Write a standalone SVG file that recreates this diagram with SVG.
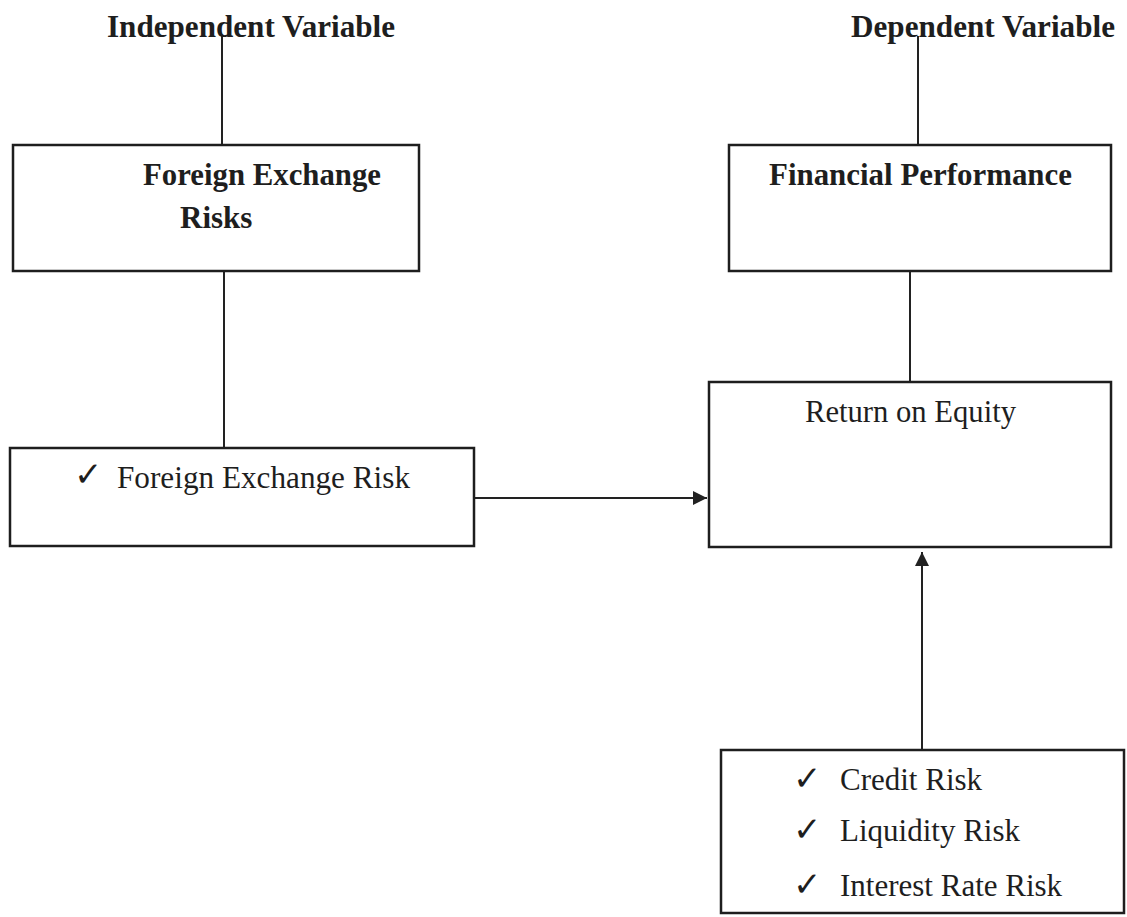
<svg xmlns="http://www.w3.org/2000/svg" width="1127" height="917" viewBox="0 0 1127 917">
  <defs>
    <marker id="arrow" viewBox="0 0 10 10" refX="10" refY="5" markerWidth="14" markerHeight="14" markerUnits="userSpaceOnUse" orient="auto">
      <path d="M0,0 L10,5 L0,10 z" fill="#222"/>
    </marker>
    <style>
      .box { fill: #fff; stroke: #1e1e1e; stroke-width: 2.5; }
      .line { stroke: #222; stroke-width: 2; fill: none; }
      .bold { font-family: "Liberation Serif", "Times New Roman", serif; font-weight: bold; font-size: 31px; fill: #1e1e1e; }
      .reg { font-family: "Liberation Serif", "Times New Roman", serif; font-size: 31px; fill: #1e1e1e; }
      .chk { font-family: "DejaVu Sans", sans-serif; font-size: 34px; font-weight: bold; fill: #1e1e1e; }
    </style>
  </defs>
  <rect width="1127" height="917" fill="#fff"/>

  <g id="connectors">
    <line class="line" x1="222" y1="36" x2="222" y2="145"/>
    <line class="line" x1="918" y1="36" x2="918" y2="145"/>
    <line class="line" x1="224" y1="271" x2="224" y2="448"/>
    <line class="line" x1="910" y1="271" x2="910" y2="382"/>
    <line class="line" x1="474" y1="498" x2="707" y2="498" marker-end="url(#arrow)"/>
    <line class="line" x1="922" y1="750" x2="922" y2="552" marker-end="url(#arrow)"/>
  </g>

  <g id="label-independent">
    <text class="bold" x="107" y="37" textLength="288" lengthAdjust="spacingAndGlyphs">Independent Variable</text>
  </g>
  <g id="label-dependent">
    <text class="bold" x="851" y="37" textLength="264" lengthAdjust="spacingAndGlyphs">Dependent Variable</text>
  </g>

  <g id="node-fx-risks">
    <rect class="box" x="13" y="145" width="406" height="126"/>
    <text class="bold" x="143" y="185" textLength="238" lengthAdjust="spacingAndGlyphs">Foreign Exchange</text>
    <text class="bold" x="180" y="228">Risks</text>
  </g>

  <g id="node-financial-performance">
    <rect class="box" x="729" y="145" width="382" height="126"/>
    <text class="bold" x="769" y="185" textLength="303" lengthAdjust="spacingAndGlyphs">Financial Performance</text>
  </g>

  <g id="node-fx-risk">
    <rect class="box" x="10" y="448" width="464" height="98"/>
    <text class="chk" x="74" y="486">✓</text>
    <text class="reg" x="117" y="488" textLength="293" lengthAdjust="spacingAndGlyphs">Foreign Exchange Risk</text>
  </g>

  <g id="node-roe">
    <rect class="box" x="709" y="382" width="402" height="165"/>
    <text class="reg" x="805" y="422" textLength="211" lengthAdjust="spacingAndGlyphs">Return on Equity</text>
  </g>

  <g id="node-control">
    <rect class="box" x="721" y="750" width="403" height="163"/>
    <text class="chk" x="793" y="790">✓</text>
    <text class="reg" x="840" y="790">Credit Risk</text>
    <text class="chk" x="793" y="841">✓</text>
    <text class="reg" x="840" y="841">Liquidity Risk</text>
    <text class="chk" x="793" y="896">✓</text>
    <text class="reg" x="840" y="896">Interest Rate Risk</text>
  </g>
</svg>
